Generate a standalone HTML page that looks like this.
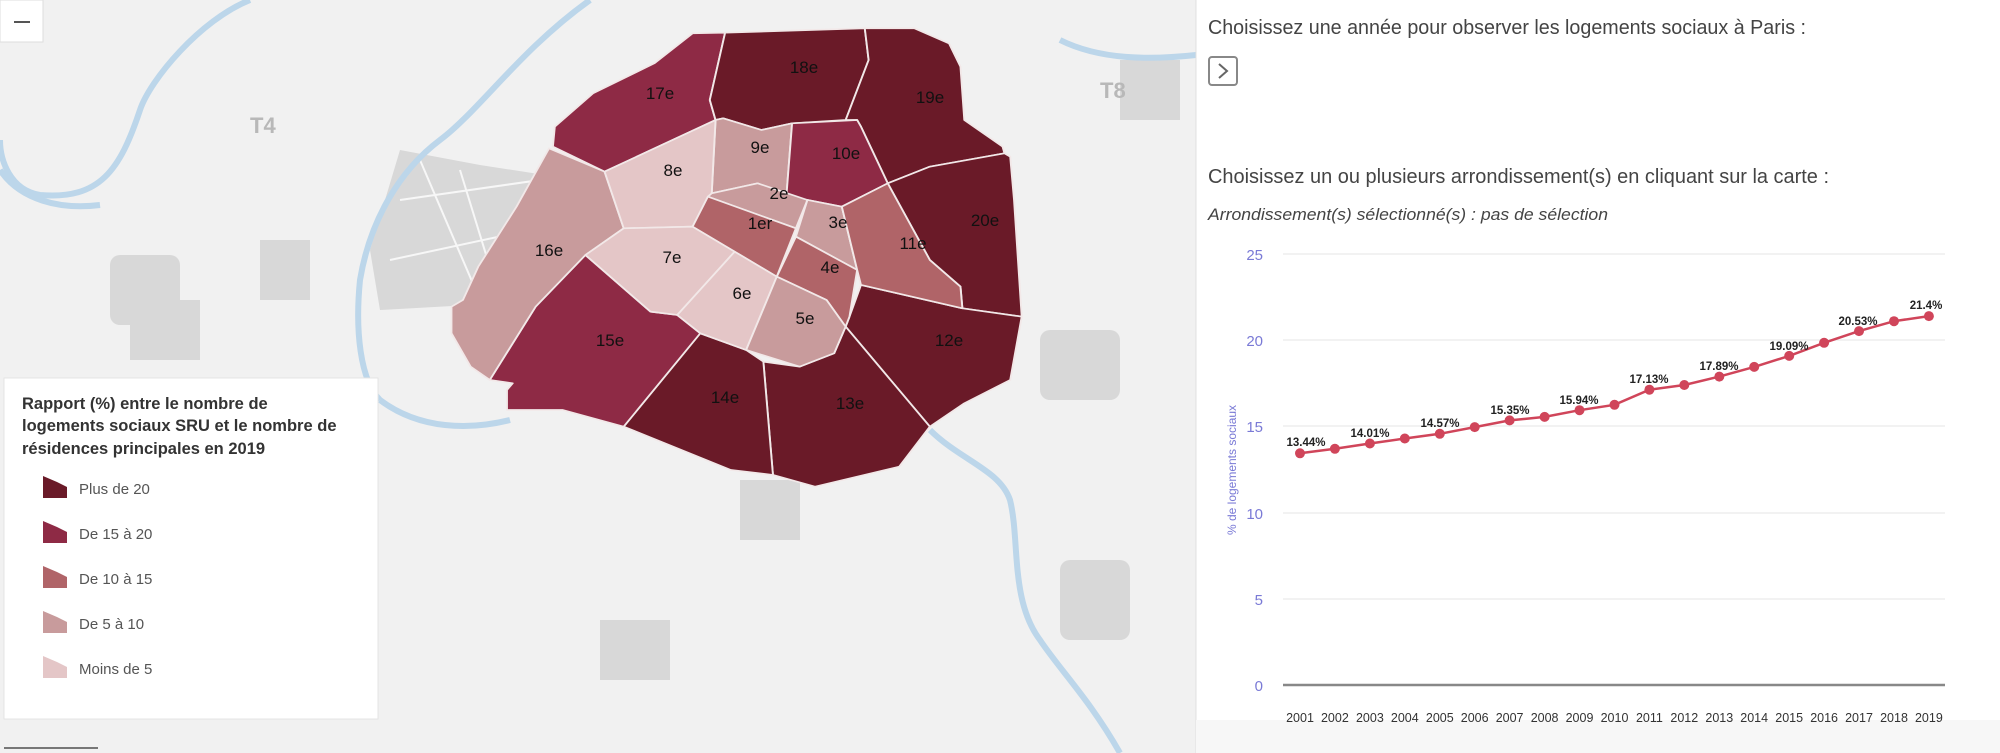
<!DOCTYPE html>
<html><head><meta charset="utf-8"><style>
html,body{margin:0;padding:0;background:#fff;}
svg{display:block;}
</style></head><body>
<svg width="2000" height="753" viewBox="0 0 2000 753" xmlns="http://www.w3.org/2000/svg" font-family="Liberation Sans, sans-serif">
<!-- map background -->
<rect x="0" y="0" width="1196" height="753" fill="#f1f1f1"/>
<g fill="#d8d8d8">
<rect x="110" y="255" width="70" height="70" rx="10"/>
<rect x="260" y="240" width="50" height="60"/>
<polygon points="400,150 480,165 545,175 540,230 520,300 470,305 380,310 370,250"/>
<rect x="130" y="300" width="70" height="60"/>
<rect x="740" y="480" width="60" height="60"/>
<rect x="1040" y="330" width="80" height="70" rx="10"/>
<rect x="1060" y="560" width="70" height="80" rx="10"/>
<rect x="600" y="620" width="70" height="60"/>
<rect x="1120" y="60" width="60" height="60"/>
<rect x="310" y="470" width="40" height="40"/>
</g>
<g fill="none" stroke="#f7f7f7" stroke-width="2">
<path d="M400,200 L540,180 M390,260 L530,230 M420,160 L480,300 M460,170 L500,300"/>
</g>
<g fill="none" stroke="#bcd6ea" stroke-width="6">
<path d="M250,0 C200,20 150,80 140,110 C120,170 100,200 40,195 C10,190 0,160 0,140"/>
<path d="M0,170 C20,200 60,210 100,205"/>
<path d="M590,0 C520,50 480,110 440,140 C400,170 370,220 360,280 C355,330 360,380 380,400"/>
<path d="M380,400 C420,430 470,430 510,420"/>
<path d="M930,430 C960,460 1000,470 1010,500 C1020,540 1010,600 1040,640 C1060,670 1090,700 1120,753"/>
<path d="M1060,40 C1100,60 1150,60 1196,55"/>
</g>
<text x="250" y="133" font-size="22" font-weight="bold" fill="#b8b8b8">T4</text>
<text x="1100" y="98" font-size="22" font-weight="bold" fill="#b8b8b8">T8</text>
<text x="318" y="610" font-size="22" font-weight="bold" fill="#b8b8b8">T2</text>
<!-- zoom control -->
<rect x="0" y="0" width="43" height="42" fill="#fff" stroke="#ddd"/>
<line x1="14" y1="22" x2="30" y2="22" stroke="#555" stroke-width="2"/>
<!-- districts -->
<g transform="translate(440,0) scale(0.3827,0.3333)" stroke="#f2e8e8" stroke-width="5" stroke-linejoin="round">
<polygon fill="#8e2a45" points="295,440 300,380 400,280 560,190 660,100 745,98 705,300 720,360 430,515"/>
<polygon fill="#6a1a28" points="745,98 1110,85 1120,180 1060,360 920,370 840,390 740,355 720,360 705,300"/>
<polygon fill="#6a1a28" points="1110,85 1240,85 1330,130 1360,200 1370,360 1470,440 1475,460 1280,500 1170,550 1100,380 1090,360 1060,360 1120,180"/>
<polygon fill="#6a1a28" points="1170,550 1280,500 1475,460 1490,470 1500,600 1520,950 1365,925 1360,860 1280,780"/>
<polygon fill="#6a1a28" points="1100,855 1365,925 1520,950 1490,1140 1370,1210 1280,1280 1060,980 1070,950"/>
<polygon fill="#6a1a28" points="1060,980 1280,1280 1200,1400 980,1460 870,1425 845,1085 940,1100 1030,1060"/>
<polygon fill="#6a1a28" points="845,1085 870,1425 760,1410 480,1280 680,1000 800,1050"/>
<polygon fill="#8e2a45" points="380,765 550,935 620,945 680,1000 480,1280 320,1230 175,1230 175,1170 190,1150 130,1140 250,920"/>
<polygon fill="#c89b9c" points="285,445 430,515 480,685 380,765 250,920 130,1140 80,1100 30,1000 30,920 60,900 100,800 200,620"/>
<polygon fill="#c89b9c" points="720,360 740,355 840,390 920,370 905,590 830,550 710,580"/>
<polygon fill="#8e2a45" points="920,370 1090,360 1100,380 1170,550 1050,620 960,600 905,590"/>
<polygon fill="#e4c6c7" points="430,515 720,360 710,580 660,680 480,685"/>
<polygon fill="#c89b9c" points="710,580 830,550 960,600 930,685 700,590"/>
<polygon fill="#b06468" points="700,590 930,685 880,830 770,755 660,680"/>
<polygon fill="#c89b9c" points="960,600 1050,620 1090,810 930,710"/>
<polygon fill="#b06468" points="930,710 1090,810 1070,950 1060,980 1010,900 880,830"/>
<polygon fill="#b06468" points="1050,620 1170,550 1280,780 1360,860 1365,925 1100,855 1090,810"/>
<polygon fill="#e4c6c7" points="480,685 660,680 770,755 620,945 550,935 380,765"/>
<polygon fill="#e4c6c7" points="770,755 880,830 800,1050 680,1000 620,945"/>
<polygon fill="#c89b9c" points="880,830 1010,900 1060,980 1030,1060 940,1100 800,1050"/>
</g>
<g font-size="17" fill="#111" text-anchor="middle">
<text x="660" y="99">17e</text><text x="804" y="73">18e</text><text x="930" y="103">19e</text>
<text x="760" y="153">9e</text><text x="846" y="159">10e</text><text x="673" y="176">8e</text>
<text x="779" y="199">2e</text><text x="760" y="229">1er</text><text x="838" y="228">3e</text>
<text x="985" y="226">20e</text><text x="549" y="256">16e</text><text x="672" y="263">7e</text>
<text x="913" y="249">11e</text><text x="830" y="273">4e</text><text x="742" y="299">6e</text>
<text x="805" y="324">5e</text><text x="610" y="346">15e</text><text x="949" y="346">12e</text>
<text x="725" y="403">14e</text><text x="850" y="409">13e</text>
</g>
<!-- legend -->
<rect x="4" y="378" width="374" height="341" fill="#fff" stroke="#e4e4e4"/>
<g font-size="16.5" font-weight="bold" fill="#333">
<text x="22" y="409">Rapport (%) entre le nombre de</text>
<text x="22" y="431">logements sociaux SRU et le nombre de</text>
<text x="22" y="454">résidences principales en 2019</text>
</g>
<g font-size="15" fill="#555">
<polygon points="43,476 57,482 67,487 67,498 43,498" fill="#6a1a28"/><text x="79" y="494">Plus de 20</text>
<polygon points="43,521 57,527 67,532 67,543 43,543" fill="#8e2a45"/><text x="79" y="539">De 15 à 20</text>
<polygon points="43,566 57,572 67,577 67,588 43,588" fill="#b06468"/><text x="79" y="584">De 10 à 15</text>
<polygon points="43,611 57,617 67,622 67,633 43,633" fill="#c89b9c"/><text x="79" y="629">De 5 à 10</text>
<polygon points="43,656 57,662 67,667 67,678 43,678" fill="#e4c6c7"/><text x="79" y="674">Moins de 5</text>
</g>
<line x1="4" y1="748" x2="98" y2="748" stroke="#777" stroke-width="2"/>
<!-- right panel -->
<rect x="1196" y="0" width="804" height="753" fill="#fff"/>
<line x1="1196" y1="0" x2="1196" y2="753" stroke="#e0e0e0"/>
<rect x="1196" y="720" width="804" height="33" fill="#f7f7f7"/>
<g font-family="Liberation Sans Narrow, Liberation Sans, sans-serif" fill="#444">
<text x="1208" y="34" font-size="20" textLength="598" lengthAdjust="spacingAndGlyphs">Choisissez une année pour observer les logements sociaux à Paris :</text>
<text x="1208" y="183" font-size="20" textLength="621" lengthAdjust="spacingAndGlyphs">Choisissez un ou plusieurs arrondissement(s) en cliquant sur la carte :</text>
<text x="1208" y="220" font-size="16.5" font-style="italic" textLength="400" lengthAdjust="spacingAndGlyphs">Arrondissement(s) sélectionné(s) : pas de sélection</text>
</g>
<rect x="1209" y="57" width="28" height="28" rx="3" fill="#fff" stroke="#888" stroke-width="2"/>
<polyline points="1219,64 1227,71 1219,78" fill="none" stroke="#666" stroke-width="2"/>
<!-- chart -->
<g stroke="#eee" stroke-width="1.5">
<line x1="1283" y1="254" x2="1945" y2="254"/>
<line x1="1283" y1="340" x2="1945" y2="340"/>
<line x1="1283" y1="426" x2="1945" y2="426"/>
<line x1="1283" y1="513" x2="1945" y2="513"/>
<line x1="1283" y1="599" x2="1945" y2="599"/>
</g>
<line x1="1283" y1="685" x2="1945" y2="685" stroke="#888" stroke-width="2.5"/>
<g font-size="15" fill="#7a7ad6" text-anchor="end">
<text x="1263" y="260">25</text><text x="1263" y="346">20</text><text x="1263" y="432">15</text>
<text x="1263" y="519">10</text><text x="1263" y="605">5</text><text x="1263" y="691">0</text>
</g>
<text transform="translate(1236,470) rotate(-90)" font-size="12" fill="#7a7ad6" text-anchor="middle">% de logements sociaux</text>
<polyline fill="none" stroke="#d0455a" stroke-width="2.5" points="1300,453.3 1334.9,448.8 1369.9,443.5 1404.8,438.5 1439.8,433.8 1474.7,427.1 1509.6,420.4 1544.6,416.9 1579.5,410.2 1614.5,404.8 1649.4,389.7 1684.3,385.0 1719.3,376.6 1754.2,366.9 1789.2,355.9 1824.1,342.8 1859.0,331.1 1894.0,321.2 1928.9,316.1"/>
<g fill="#d0455a">
<circle cx="1300" cy="453.3" r="5"/><circle cx="1334.9" cy="448.8" r="5"/><circle cx="1369.9" cy="443.5" r="5"/><circle cx="1404.8" cy="438.5" r="5"/><circle cx="1439.8" cy="433.8" r="5"/><circle cx="1474.7" cy="427.1" r="5"/><circle cx="1509.6" cy="420.4" r="5"/><circle cx="1544.6" cy="416.9" r="5"/><circle cx="1579.5" cy="410.2" r="5"/><circle cx="1614.5" cy="404.8" r="5"/><circle cx="1649.4" cy="389.7" r="5"/><circle cx="1684.3" cy="385.0" r="5"/><circle cx="1719.3" cy="376.6" r="5"/><circle cx="1754.2" cy="366.9" r="5"/><circle cx="1789.2" cy="355.9" r="5"/><circle cx="1824.1" cy="342.8" r="5"/><circle cx="1859.0" cy="331.1" r="5"/><circle cx="1894.0" cy="321.2" r="5"/><circle cx="1928.9" cy="316.1" r="5"/>
</g>
<g font-size="11.5" font-weight="bold" fill="#222" text-anchor="middle">
<text x="1306" y="446">13.44%</text><text x="1370" y="437">14.01%</text><text x="1440" y="427">14.57%</text>
<text x="1510" y="414">15.35%</text><text x="1579" y="404">15.94%</text><text x="1649" y="383">17.13%</text>
<text x="1719" y="370">17.89%</text><text x="1789" y="350">19.09%</text><text x="1858" y="325">20.53%</text>
<text x="1926" y="309">21.4%</text>
</g>
<g font-size="12.5" fill="#333" text-anchor="middle">
<text x="1300" y="722">2001</text><text x="1334.9" y="722">2002</text><text x="1369.9" y="722">2003</text><text x="1404.8" y="722">2004</text><text x="1439.8" y="722">2005</text><text x="1474.7" y="722">2006</text><text x="1509.6" y="722">2007</text><text x="1544.6" y="722">2008</text><text x="1579.5" y="722">2009</text><text x="1614.5" y="722">2010</text><text x="1649.4" y="722">2011</text><text x="1684.3" y="722">2012</text><text x="1719.3" y="722">2013</text><text x="1754.2" y="722">2014</text><text x="1789.2" y="722">2015</text><text x="1824.1" y="722">2016</text><text x="1859.0" y="722">2017</text><text x="1894.0" y="722">2018</text><text x="1928.9" y="722">2019</text>
</g>
</svg>
</body></html>
